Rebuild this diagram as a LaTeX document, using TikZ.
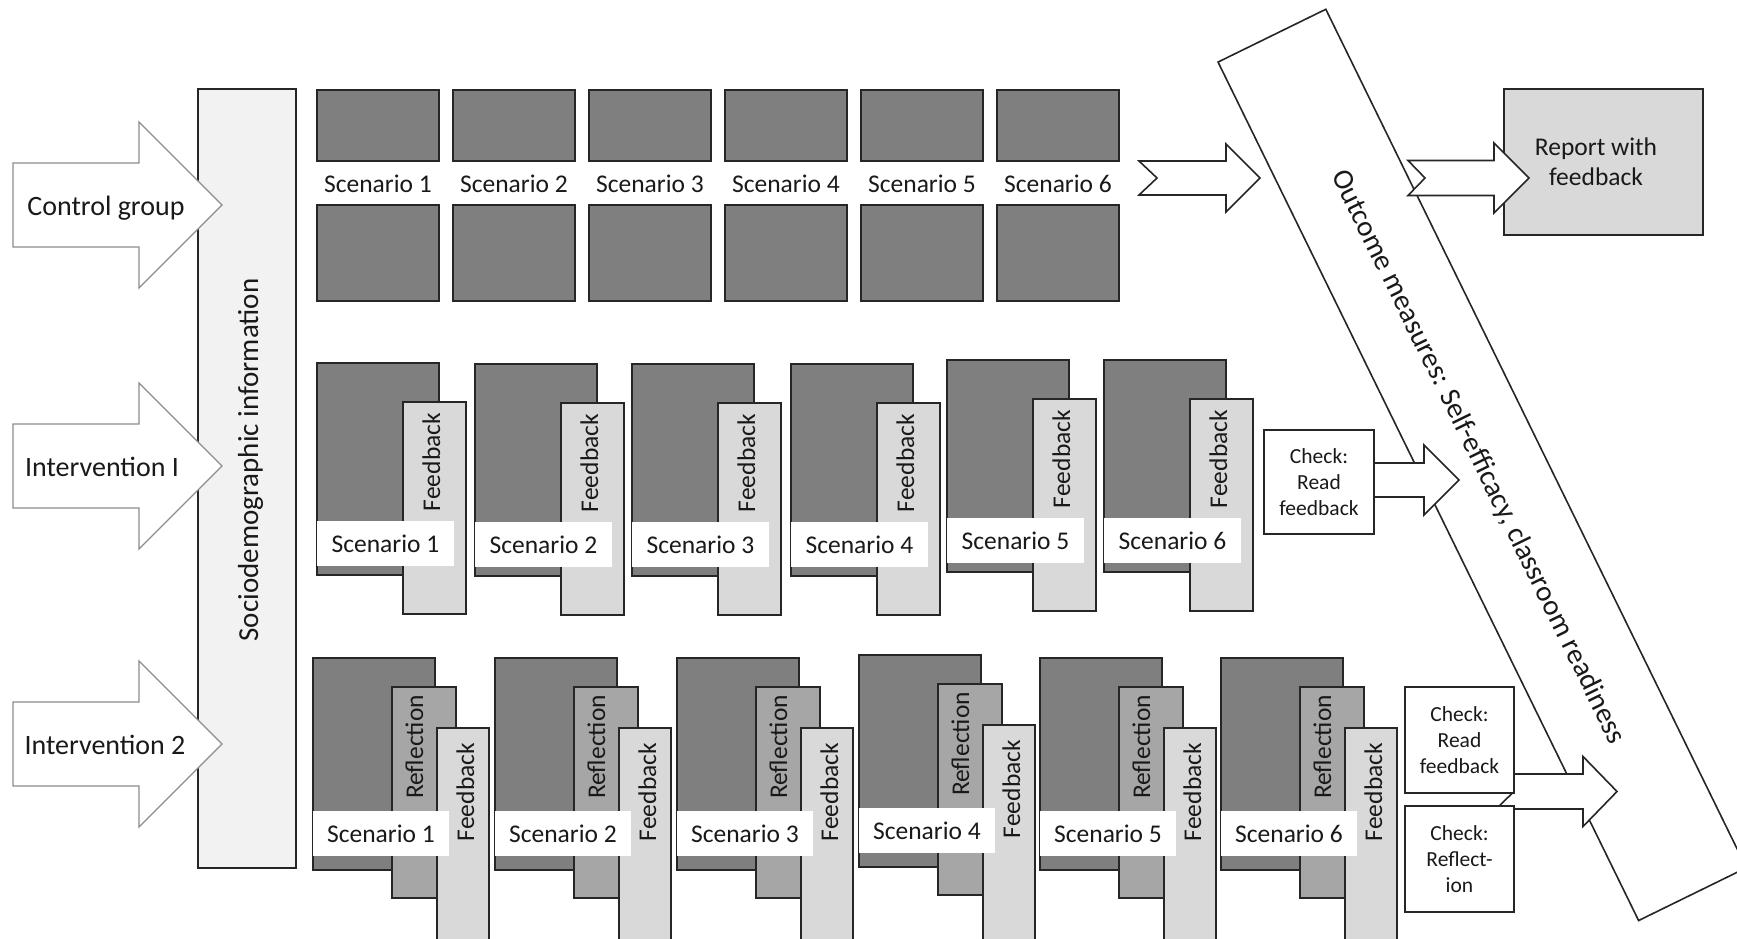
\documentclass[tikz,border=0pt]{standalone}
\usepackage{fontspec}
\setmainfont{Carlito}
\definecolor{dk}{HTML}{7F7F7F}
\definecolor{md}{HTML}{A6A6A6}
\definecolor{lt}{HTML}{D9D9D9}
\definecolor{vl}{HTML}{F2F2F2}
\definecolor{ln}{HTML}{262626}
\definecolor{gr}{HTML}{8C8C8C}
\tikzset{
  box/.style={draw=ln, line width=1.6pt, anchor=north west, inner sep=0pt, outer sep=0pt},
  scen/.style={box, fill=dk},
  refl/.style={box, fill=md},
  fbk/.style={box, fill=lt},
  lbl/.style={fill=white, anchor=north west, inner sep=0pt, outer sep=0pt},
  fsc/.style={font=\fontsize{25.5}{30}\selectfont, text=black!90},
  fgr/.style={font=\fontsize{28}{33}\selectfont, text=black!90},
  fxl/.style={font=\fontsize{29}{34}\selectfont, text=black!90},
  fsm/.style={font=\fontsize{21.5}{26}\selectfont, text=black!90},
  arr/.style={draw=ln, fill=white, line width=1.6pt, line join=miter},
  grp/.style={draw=gr, fill=white, line width=1.3pt, line join=miter},
}
% tail x, notch x, centre y, half shaft, head base x, half head, tip x
\newcommand{\myblockarrow}[8][arr]{%
  \draw[#1] (#2,{#4-#5}) -- (#6,{#4-#5}) -- (#6,{#4-#7}) -- (#8,#4)
    -- (#6,{#4+#7}) -- (#6,{#4+#5}) -- (#2,{#4+#5}) -- (#3,#4) -- cycle;}
\begin{document}
\begin{tikzpicture}[x=1pt,y=-1pt]
\useasboundingbox (0,0) rectangle (1737,938);
\clip (0,0) rectangle (1737,938);

% sociodemographic column
\node[box, fill=vl, minimum width=98pt, minimum height=779pt] (socio) at (198,89) {};
\node[fxl, rotate=90, anchor=base] (sociot) at (258,460) {Sociodemographic information};

% group arrows
\myblockarrow[grp]{13}{13}{205}{42}{139}{83}{222}
\myblockarrow[grp]{13}{13}{466}{42}{139}{83}{222}
\myblockarrow[grp]{13}{13}{744}{42}{139}{83}{222}
\node[fgr, anchor=base] (g1) at (106,215) {Control group};
\node[fgr, anchor=base] (g2) at (102,476) {Intervention I};
\node[fgr, anchor=base] (g3) at (105,754) {Intervention 2};

% row 1 : control group
\foreach \i in {1,...,6} {
  \pgfmathsetmacro\x{317+136*(\i-1)}
  \node[scen, minimum width=122pt, minimum height=71pt] (ra\i) at (\x,90) {};
  \node[scen, minimum width=122pt, minimum height=96pt] (rb\i) at (\x,205) {};
  \node[fsc, anchor=base] (rl\i) at (\x+61,192) {Scenario \i};
}

% row 2 : intervention I
\foreach \i/\x/\yy in {1/317/363,2/475/364,3/632/364,4/791/364,5/947/360,6/1104/360} {
  \node[scen, minimum width=122pt, minimum height=212pt] (sa\i) at (\x,\yy) {};
  \node[fbk, minimum width=63pt, minimum height=212pt] (sf\i) at (\x+86,\yy+39) {};
  \node[fsc, rotate=90, anchor=base] (sft\i) at (\x+123,\yy+99) {Feedback};
  \node[lbl, fsc, minimum width=137pt, minimum height=45pt] (sl\i) at (\x,\yy+158) {Scenario \i};
}

% row 3 : intervention 2
\foreach \i/\x/\yy in {1/313/658,2/495/658,3/677/658,4/859/655,5/1040/658,6/1221/658} {
  \node[scen, minimum width=122pt, minimum height=212pt] (ta\i) at (\x,\yy) {};
  \node[refl, minimum width=64pt, minimum height=211pt] (tr\i) at (\x+79,\yy+29) {};
  \node[fsc, rotate=90, anchor=base] (trt\i) at (\x+110,\yy+89) {Reflection};
  \node[fbk, minimum width=52pt, minimum height=240pt] (tf\i) at (\x+124,\yy+70) {};
  \node[fsc, rotate=90, anchor=base] (tft\i) at (\x+161,\yy+134) {Feedback};
  \node[lbl, fsc, minimum width=136pt, minimum height=45pt] (tl\i) at (\x,\yy+153) {Scenario \i};
}

% outcome band
\node[draw=ln, line width=1.6pt, fill=white, rotate=-63.9, minimum width=956pt,
      minimum height=120pt, inner sep=0pt] (band) at (1482.2,464.9) {};
\node[fxl, rotate=-63.9] (bandt) at (1478,457) {Outcome measures: Self-efficacy, classroom readiness};

% row 1 arrows and report
\myblockarrow{1139}{1157}{178}{17}{1226}{34}{1260}
\node[box, fill=lt, minimum width=199pt, minimum height=146pt] (rep) at (1504,89) {};
\myblockarrow{1408}{1425}{178}{17.5}{1494}{35}{1529}
\node[fsc, align=center] (rept) at (1596,162) {Report with\\feedback};

% row 2 check
\myblockarrow{1330}{1330}{480}{17}{1424}{35}{1459}
\node[box, fill=white, fsm, align=center, minimum width=110pt, minimum height=104pt] (chk2) at (1264,430) {Check:\\Read\\feedback};

% row 3 checks
\myblockarrow{1496}{1514}{791.5}{17.5}{1583}{35}{1617}
\node[box, fill=white, fsm, align=center, minimum width=109pt, minimum height=106pt] (chk3a) at (1405,687) {Check:\\Read\\feedback};
\node[box, fill=white, fsm, align=center, minimum width=109pt, minimum height=106pt] (chk3b) at (1405,806) {Check:\\Reflect-\\ion};
\end{tikzpicture}
\end{document}
